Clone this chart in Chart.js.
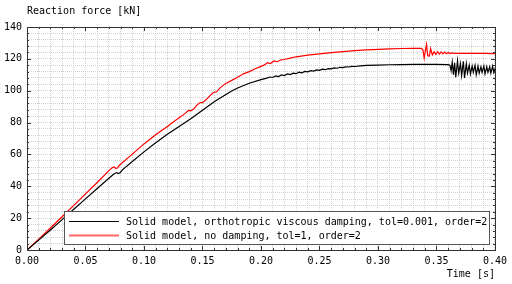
<!DOCTYPE html>
<html>
<head>
<meta charset="utf-8">
<script src="https://cdn.jsdelivr.net/npm/chart.js@4"></script>
<style>
  html, body { margin: 0; padding: 0; background: #fff; }
  #wrap { width: 512px; height: 284px; }
</style>
</head>
<body>
<div id="wrap"><canvas id="myChart" width="512" height="284"></canvas></div>
<script>
// data
var blackT = [0, 0.01, 0.02, 0.03, 0.04, 0.05, 0.06, 0.07, 0.074, 0.0765, 0.078, 0.0795, 0.082, 0.09, 0.10, 0.11, 0.12, 0.13, 0.14, 0.15, 0.16, 0.17, 0.175, 0.18, 0.19, 0.20,
  0.205, 0.2075, 0.21, 0.2125, 0.215, 0.2175, 0.22, 0.2225, 0.225, 0.2275, 0.23, 0.2325, 0.235, 0.2375, 0.24, 0.2425, 0.245, 0.2475, 0.25, 0.2525, 0.255, 0.2575,
  0.26, 0.2625, 0.265, 0.2675, 0.27, 0.2725, 0.275, 0.2775, 0.28, 0.285, 0.29, 0.30, 0.31, 0.32, 0.33, 0.34, 0.35, 0.36, 0.3615,
  0.3625, 0.3635, 0.3645, 0.3655, 0.3665, 0.368, 0.369, 0.3705, 0.3715, 0.373, 0.374, 0.3755, 0.3765, 0.378, 0.379, 0.3805, 0.3815, 0.383, 0.384,
  0.3855, 0.3865, 0.388, 0.389, 0.3905, 0.3915, 0.393, 0.394, 0.3955, 0.3965, 0.398, 0.399, 0.40];
var blackF = [0, 6.2, 12.6, 19.1, 25.6, 32.1, 38.6, 45.0, 47.6, 48.6, 48.0, 48.5, 50.6, 55.6, 61.6, 67.3, 72.6, 77.6, 82.4, 87.8, 93.0, 97.6, 99.8, 101.7, 104.7, 107.0,
  107.9, 108.6, 108.3, 109.3, 108.9, 109.9, 109.5, 110.5, 110.1, 111.0, 110.7, 111.6, 111.2, 112.1, 111.8, 112.6, 112.3, 113.1, 112.8, 113.5, 113.2, 113.9,
  113.7, 114.3, 114.1, 114.7, 114.5, 115.0, 114.9, 115.3, 115.2, 115.6, 115.9, 116.1, 116.3, 116.4, 116.5, 116.5, 116.5, 116.4, 116.0,
  112.5, 118.0, 110.0, 117.5, 108.5, 118.8, 111.0, 117.0, 109.5, 118.5, 108.0, 117.0, 111.0, 116.0, 110.5, 115.5, 111.5, 116.0, 110.0,
  115.5, 111.0, 115.0, 111.5, 115.5, 110.5, 115.0, 111.5, 115.0, 111.0, 115.5, 111.5, 114.0];

var redT = [0, 0.01, 0.02, 0.03, 0.04, 0.05, 0.06, 0.07, 0.073, 0.0745, 0.076, 0.0775, 0.079, 0.09, 0.10, 0.11, 0.12, 0.125, 0.13, 0.135, 0.138, 0.14, 0.1425,
  0.145, 0.148, 0.15, 0.153, 0.156, 0.159, 0.162, 0.165, 0.17, 0.175, 0.18, 0.185, 0.19, 0.195, 0.2, 0.203, 0.2055, 0.208, 0.211, 0.214, 0.217, 0.22,
  0.225, 0.23, 0.24, 0.25, 0.26, 0.27, 0.28, 0.29, 0.30, 0.31, 0.32, 0.33, 0.337, 0.3385, 0.3395, 0.3405, 0.3415, 0.3425, 0.344, 0.345, 0.3465,
  0.348, 0.3495, 0.351, 0.3525, 0.354, 0.3555, 0.357, 0.3585, 0.36, 0.3615, 0.363, 0.365, 0.37, 0.38, 0.39, 0.40];
var redF = [0, 6.8, 13.8, 20.9, 28.0, 35.2, 42.4, 49.8, 51.8, 52.2, 51.2, 51.6, 53.2, 60.2, 66.6, 72.3, 77.6, 80.4, 83.0, 85.6, 87.6, 87.4, 88.5,
  90.8, 92.6, 92.5, 94.3, 96.6, 98.7, 99.3, 101.8, 104.6, 106.5, 108.5, 110.6, 112.0, 113.8, 115.3, 116.2, 117.6, 117.1, 118.7, 118.2, 119.4, 119.6,
  120.5, 121.3, 122.3, 123.1, 123.9, 124.6, 125.2, 125.7, 126.0, 126.3, 126.5, 126.6, 126.6, 125.5, 120.5, 125.0, 129.0, 122.0, 121.8, 126.5, 122.5,
  124.5, 122.8, 124.5, 123.0, 124.4, 123.1, 124.2, 123.2, 124.0, 123.3, 123.7, 123.4, 123.5, 123.4, 123.4, 123.3];

var seriesLabels = ['Solid model, orthotropic viscous damping, tol=0.001, order=2', 'Solid model, no damping, tol=1, order=2'];
var seriesColors = ['#000000', '#ff0000'];
var xTitle = 'Time [s]';
var yTitle = 'Reaction force [kN]';

var FONT = '"DejaVu Sans Mono", monospace';

function toPoints(xs, ys) {
    return xs.map(function (x, i) { return { x: x, y: ys[i] }; });
}

function isMajorX(v) { return Math.round(v * 100) % 5 === 0; }
function isMajorY(v) { return Math.round(v) % 20 === 0; }

var decor = {
    id: 'decor',
    afterDraw: function (chart) {
        var ctx = chart.ctx;
        var a = chart.chartArea;
        var xs = chart.scales.x, ys = chart.scales.y;
        ctx.save();
        // frame
        ctx.strokeStyle = '#333';
        ctx.lineWidth = 1;
        ctx.strokeRect(Math.round(a.left) + 0.5, Math.round(a.top) + 0.5, Math.round(a.right - a.left), Math.round(a.bottom - a.top));
        // inner tick marks
        ctx.beginPath();
        xs.ticks.forEach(function (t) {
            var p = Math.round(xs.getPixelForValue(t.value)) + 0.5;
            var l = isMajorX(t.value) ? 4 : 2;
            ctx.moveTo(p, a.bottom); ctx.lineTo(p, a.bottom - l);
            ctx.moveTo(p, a.top); ctx.lineTo(p, a.top + l);
        });
        ys.ticks.forEach(function (t) {
            var p = Math.round(ys.getPixelForValue(t.value)) + 0.5;
            var l = isMajorY(t.value) ? 4 : 2;
            ctx.moveTo(a.left, p); ctx.lineTo(a.left + l, p);
            ctx.moveTo(a.right, p); ctx.lineTo(a.right - l, p);
        });
        ctx.stroke();

        // titles
        ctx.fillStyle = '#000';
        ctx.font = '10px ' + FONT;
        ctx.textBaseline = 'middle';
        ctx.textAlign = 'left';
        ctx.fillText(yTitle, a.left, 11);
        ctx.textAlign = 'right';
        ctx.fillText(xTitle, a.right, 274);

        // legend box
        var bx = 64.5, by = 211.5, bw = 425, bh = 33;
        ctx.fillStyle = '#fff';
        ctx.fillRect(bx, by, bw, bh);
        ctx.strokeStyle = '#555';
        ctx.strokeRect(bx, by, bw, bh);
        var rows = [221, 235];
        seriesLabels.forEach(function (lab, i) {
            ctx.beginPath();
            ctx.strokeStyle = i === 0 ? seriesColors[0] : 'rgba(255,0,0,0.6)';
            ctx.lineWidth = i === 0 ? 1 : 2;
            ctx.moveTo(69, rows[i] + 0.5);
            ctx.lineTo(119, rows[i] + 0.5);
            ctx.stroke();
            ctx.fillStyle = '#000';
            ctx.textAlign = 'left';
            ctx.fillText(lab, 126, rows[i] + 1);
        });
        ctx.restore();
    }
};

var myChart = new Chart(document.getElementById('myChart'), {
    type: 'scatter',
    data: {
        datasets: [{
            label: seriesLabels[0],
            data: toPoints(blackT, blackF),
            borderColor: seriesColors[0],
            backgroundColor: seriesColors[0],
            borderWidth: 1.2,
            showLine: true,
            pointRadius: 0,
            tension: 0
        }, {
            label: seriesLabels[1],
            data: toPoints(redT, redF),
            borderColor: seriesColors[1],
            backgroundColor: seriesColors[1],
            borderWidth: 1.2,
            showLine: true,
            pointRadius: 0,
            tension: 0
        }]
    },
    options: {
        responsive: false,
        animation: false,
        layout: { padding: { left: 0, right: 15, top: 27, bottom: 0 } },
        plugins: {
            legend: { display: false },
            tooltip: { enabled: false }
        },
        scales: {
            x: {
                type: 'linear',
                min: 0,
                max: 0.4,
                afterFit: function (s) { s.height = 34; },
                grid: { color: '#d2d2d2', lineWidth: 1, drawTicks: false },
                border: { display: false, dash: [1, 1] },
                ticks: {
                    stepSize: 0.01,
                    autoSkip: false,
                    maxRotation: 0,
                    padding: 5,
                    color: '#000',
                    font: { family: FONT, size: 10 },
                    callback: function (v) { return isMajorX(v) ? (Math.round(v * 100) / 100).toFixed(2) : ''; }
                }
            },
            y: {
                type: 'linear',
                min: 0,
                max: 140,
                afterFit: function (s) { s.width = 27; },
                grid: { color: '#d2d2d2', lineWidth: 1, drawTicks: false },
                border: { display: false, dash: [1, 1] },
                ticks: {
                    stepSize: 4,
                    autoSkip: false,
                    padding: 5,
                    color: '#000',
                    font: { family: FONT, size: 10 },
                    callback: function (v) { return isMajorY(v) ? String(Math.round(v)) : ''; }
                }
            }
        }
    },
    plugins: [decor]
});
</script>
</body>
</html>
